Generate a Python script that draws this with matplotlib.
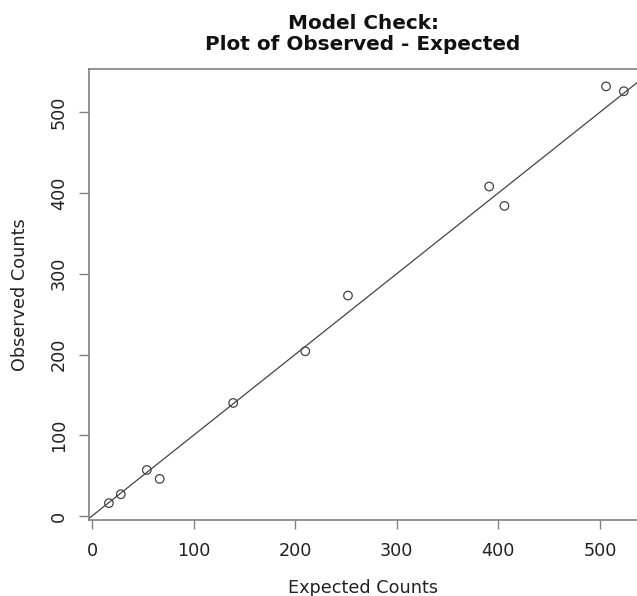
import matplotlib

matplotlib.use("Agg")
import matplotlib.pyplot as plt

# observed vs expected counts
expected = [16.7, 28.4, 54.0, 66.7, 139.0, 210.0, 252.0, 391.0, 406.0, 506.0, 523.5]
observed = [16.0, 27.0, 57.0, 46.0, 140.0, 204.0, 273.0, 408.0, 384.0, 532.0, 526.0]
ticks = [0, 100, 200, 300, 400, 500]

plt.rcParams["font.family"] = "DejaVu Sans"

fig = plt.figure(figsize=(6.37, 5.96), dpi=100)
ax = fig.add_axes([89 / 637, 76 / 596, 548 / 637, 451 / 596])

ax.scatter(expected, observed, s=38, facecolors="none", edgecolors="#444444",
           linewidths=0.9, zorder=3)
# reference line y = x
ax.axline((0, 0), slope=1, color="#444444", linewidth=0.9)

ax.set_xlim(-2.9, 536.5)
ax.set_ylim(-4.9, 553.5)
ax.set_xticks(ticks)
ax.set_yticks(ticks)
ax.set_yticklabels([str(t) for t in ticks], rotation=90, va="center")

for side in ("top", "left", "bottom"):
    ax.spines[side].set_color("#808080")
    ax.spines[side].set_linewidth(1.2)
ax.spines["right"].set_visible(False)

ax.tick_params(axis="x", length=6.5, width=1.0, color="#808080", pad=9,
               labelsize=12.7, labelcolor="#222222")
ax.tick_params(axis="y", length=7.5, width=1.0, color="#808080", pad=7.5,
               labelsize=12.7, labelcolor="#222222")

ax.set_xlabel("Expected Counts", fontsize=12.7, color="#222222", labelpad=14)
ax.set_ylabel("Observed Counts", fontsize=12.7, color="#222222", labelpad=15)
ax.set_title("Model Check:\nPlot of Observed - Expected", fontsize=14.4,
             fontweight="bold", pad=14, linespacing=1.1, color="#111111")

fig.savefig("out.png", dpi=100)
